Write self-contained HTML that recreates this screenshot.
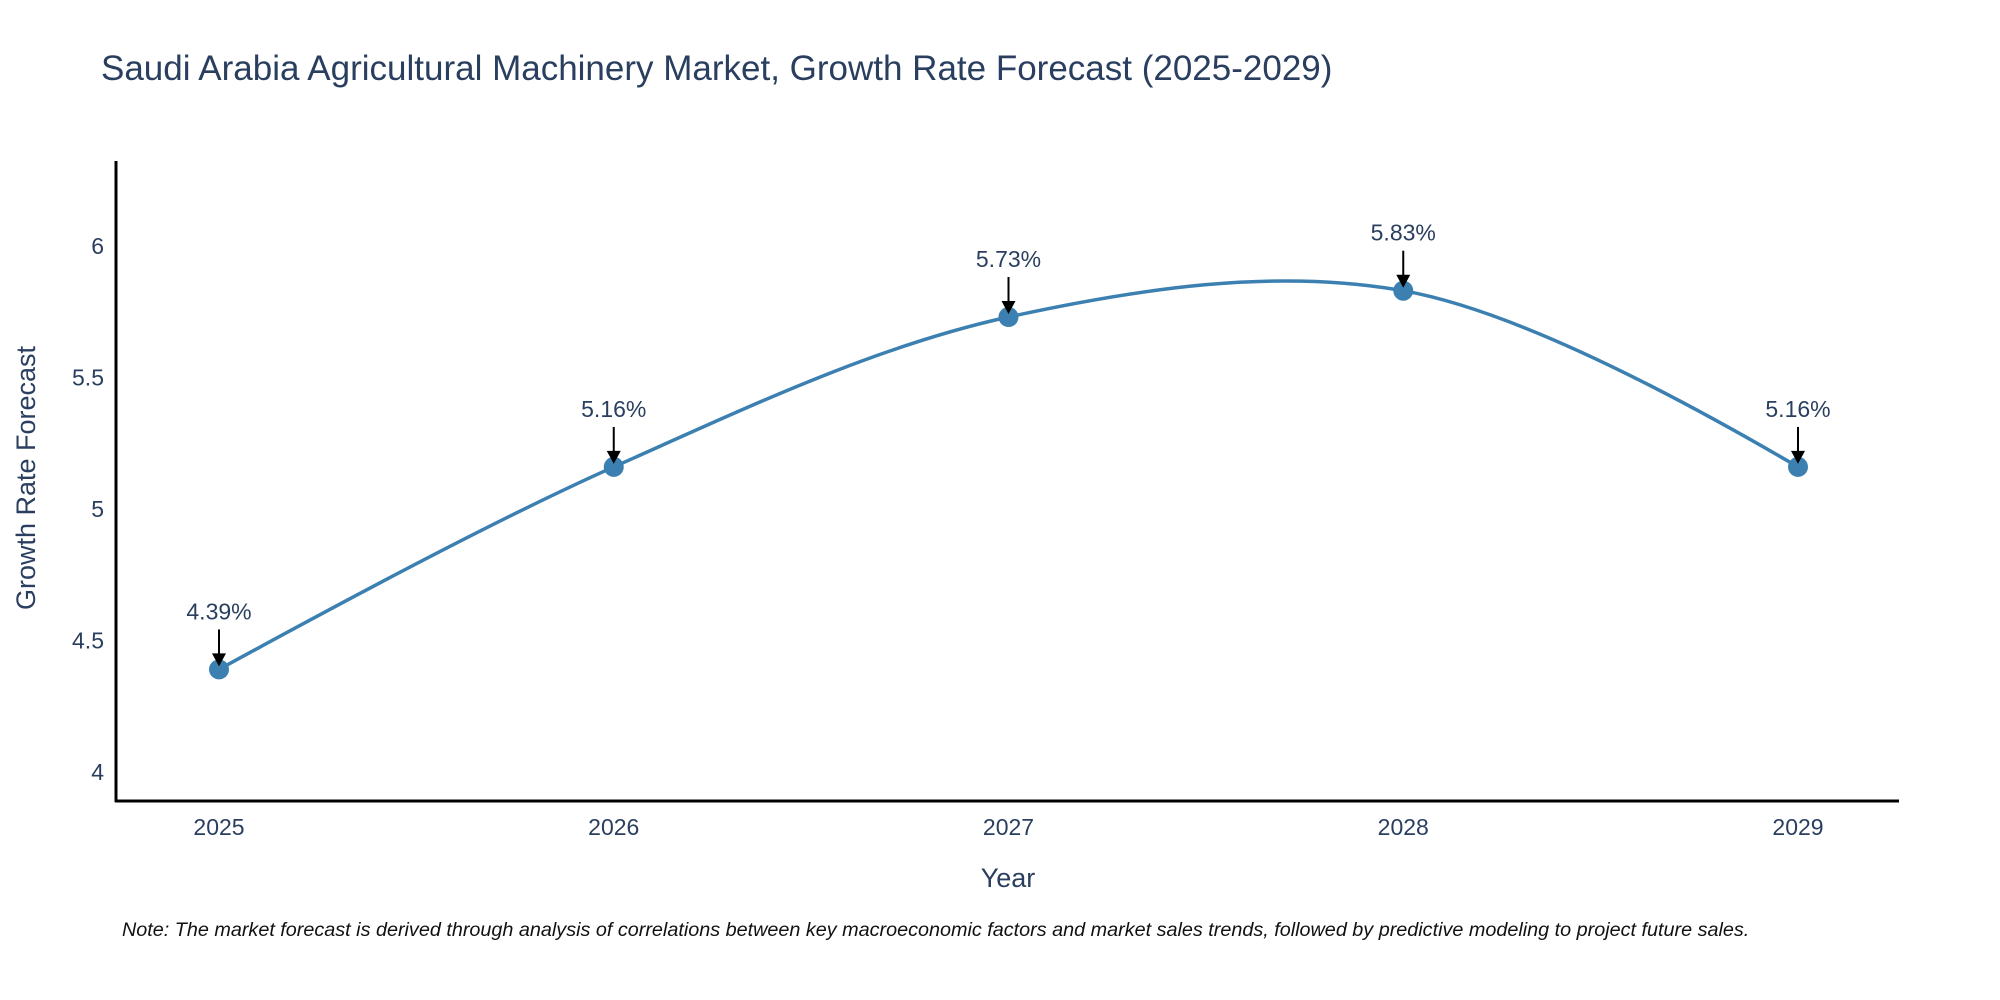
<!DOCTYPE html>
<html><head><meta charset="utf-8"><style>
body{margin:0;background:#fff}
svg{display:block;font-family:"Liberation Sans","DejaVu Sans",sans-serif}
</style></head><body>
<svg id="chart" width="2000" height="1000" viewBox="0 0 2000 1000">
<text x="101" y="80" font-size="35" fill="#2a3f5f">Saudi Arabia Agricultural Machinery Market, Growth Rate Forecast (2025-2029)</text>
<g id="yticks"></g>
<g id="xticks"></g>
<path id="line" fill="none" stroke="#3c80b2" stroke-width="3.5"/>
<g id="marks"></g>
<g id="annos"></g>
<line x1="116" y1="161" x2="116" y2="802" stroke="#000" stroke-width="3"/>
<line x1="115" y1="801" x2="1899" y2="801" stroke="#000" stroke-width="3"/>
<text x="1008" y="887" font-size="27" fill="#2a3f5f" text-anchor="middle">Year</text>
<text transform="translate(35,478) rotate(-90)" font-size="27" fill="#2a3f5f" text-anchor="middle">Growth Rate Forecast</text>
<text x="122" y="936" font-size="19.8" font-style="italic" fill="#111">Note: The market forecast is derived through analysis of correlations between key macroeconomic factors and market sales trends, followed by predictive modeling to project future sales.</text>
</svg>
<script>
const years = [2025, 2026, 2027, 2028, 2029];
const values = [4.39, 5.16, 5.73, 5.83, 5.16];
const labels = ["4.39%", "5.16%", "5.73%", "5.83%", "5.16%"];
const yTicks = [4, 4.5, 5, 5.5, 6];
const yTickLabels = ["4", "4.5", "5", "5.5", "6"];

const NS = "http://www.w3.org/2000/svg";
function xs(yr){ return 219 + (yr - 2025) * 394.75; }
function ys(v){ return 772 - (v - 4) * 263; }
function mk(tag, attrs, parent){
  const e = document.createElementNS(NS, tag);
  for (const k in attrs) e.setAttribute(k, attrs[k]);
  parent.appendChild(e);
  return e;
}
const yt = document.getElementById('yticks');
yTicks.forEach((v,i)=>{
  const t = mk('text',{x:104,y:ys(v)+8,'font-size':23,fill:'#2a3f5f','text-anchor':'end'},yt);
  
  
  t.textContent = yTickLabels[i];
});
const xt = document.getElementById('xticks');
years.forEach(y=>{
  const t = mk('text',{x:xs(y),y:835,'font-size':23,fill:'#2a3f5f','text-anchor':'middle'},xt);
  
  
  t.textContent = String(y);
});
const pts = years.map((y,i)=>[xs(y), ys(values[i])]);
function tangent(p0,p1,p2,s){
  const d1x=p0[0]-p1[0], d1y=p0[1]-p1[1], d2x=p2[0]-p1[0], d2y=p2[1]-p1[1];
  const d1a=Math.pow(d1x*d1x+d1y*d1y,0.25), d2a=Math.pow(d2x*d2x+d2y*d2y,0.25);
  const nx=(d2a*d2a*d1x-d1a*d1a*d2x)*s, ny=(d2a*d2a*d1y-d1a*d1a*d2y)*s;
  const den1=3*d2a*(d1a+d2a), den2=3*d1a*(d1a+d2a);
  return [[p1[0]+nx/den1,p1[1]+ny/den1],[p1[0]-nx/den2,p1[1]-ny/den2]];
}
const tg=[];
for(let i=1;i<pts.length-1;i++) tg.push(tangent(pts[i-1],pts[i],pts[i+1],1));
let d='M'+pts[0]+'Q'+tg[0][0]+' '+pts[1];
for(let i=2;i<pts.length-1;i++) d+='C'+tg[i-2][1]+' '+tg[i-1][0]+' '+pts[i];
d+='Q'+tg[pts.length-3][1]+' '+pts[pts.length-1];
document.getElementById('line').setAttribute('d',d);
const mg=document.getElementById('marks'), ag=document.getElementById('annos');
pts.forEach((p,i)=>{
  const c=mk('circle',{cx:p[0],cy:p[1],r:10,fill:'#3c80b2'},mg);
  
  
  const l=mk('line',{x1:p[0],y1:p[1]-40,x2:p[0],y2:p[1]-12,stroke:'#000','stroke-width':2},ag);
  
  
  const h=mk('polygon',{points:`${p[0]-7},${p[1]-16} ${p[0]+7},${p[1]-16} ${p[0]},${p[1]-3}`,fill:'#000'},ag);
  
  
  const t=mk('text',{x:p[0],y:p[1]-50,'font-size':23,fill:'#2a3f5f','text-anchor':'middle'},ag);
  
  
  t.textContent=labels[i];
});
</script>
</body></html>
